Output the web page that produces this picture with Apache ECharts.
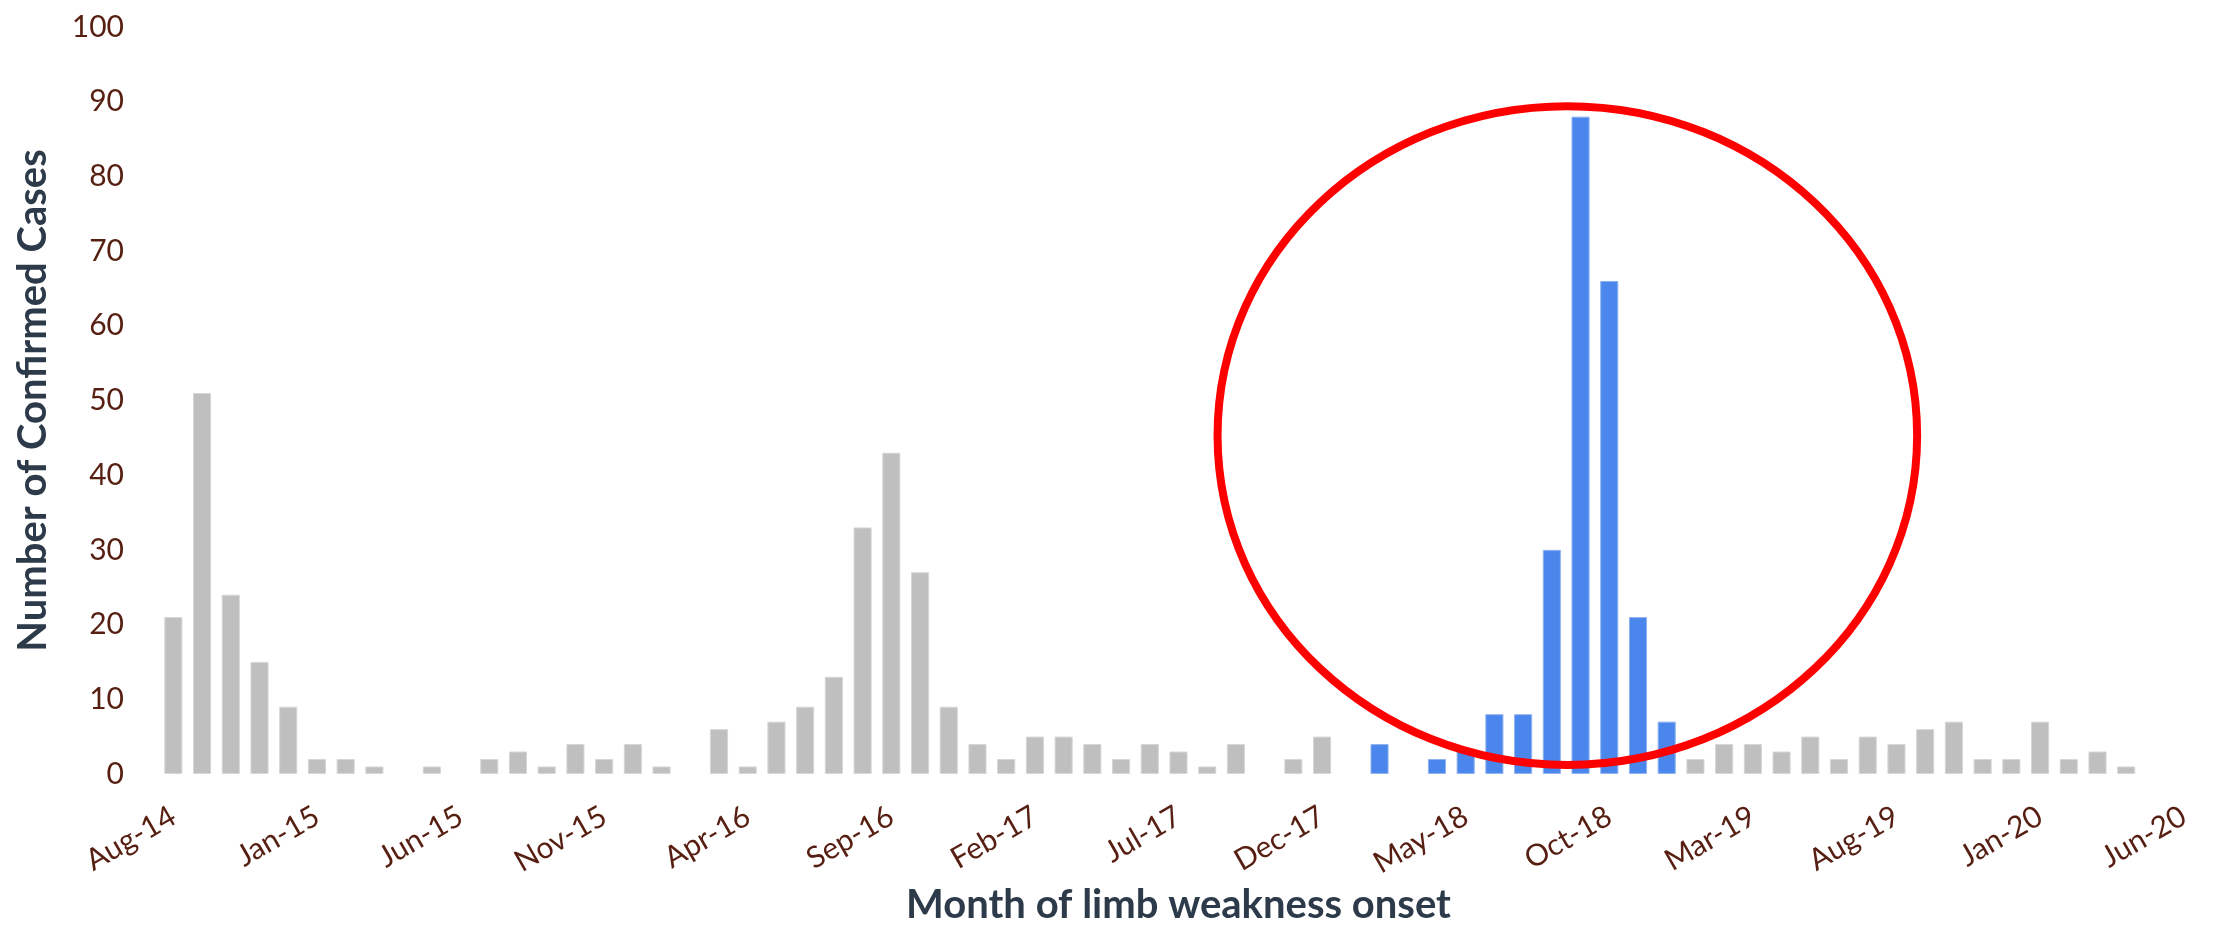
<!DOCTYPE html>
<html>
<head>
<meta charset="utf-8">
<script src="https://cdn.jsdelivr.net/npm/echarts@6/dist/echarts.min.js"></script>
<style>
  html, body { margin: 0; padding: 0; background: #ffffff; }
  #chart { width: 2216px; height: 930px; }
</style>
</head>
<body>
<div id="chart"></div>
<script>
// ---- Data ----
const months = [
  'Aug-14','Sep-14','Oct-14','Nov-14','Dec-14',
  'Jan-15','Feb-15','Mar-15','Apr-15','May-15','Jun-15','Jul-15','Aug-15','Sep-15','Oct-15','Nov-15','Dec-15',
  'Jan-16','Feb-16','Mar-16','Apr-16','May-16','Jun-16','Jul-16','Aug-16','Sep-16','Oct-16','Nov-16','Dec-16',
  'Jan-17','Feb-17','Mar-17','Apr-17','May-17','Jun-17','Jul-17','Aug-17','Sep-17','Oct-17','Nov-17','Dec-17',
  'Jan-18','Feb-18','Mar-18','Apr-18','May-18','Jun-18','Jul-18','Aug-18','Sep-18','Oct-18','Nov-18','Dec-18',
  'Jan-19','Feb-19','Mar-19','Apr-19','May-19','Jun-19','Jul-19','Aug-19','Sep-19','Oct-19','Nov-19','Dec-19',
  'Jan-20','Feb-20','Mar-20','Apr-20','May-20','Jun-20'
];
const confirmedCases = [
  21, 51, 24, 15, 9,
  2, 2, 1, 0, 1, 0, 2, 3, 1, 4, 2, 4,
  1, 0, 6, 1, 7, 9, 13, 33, 43, 27, 9, 4,
  2, 5, 5, 4, 2, 4, 3, 1, 4, 0, 2, 5,
  0, 4, 0, 2, 3, 8, 8, 30, 88, 66, 21, 7,
  2, 4, 4, 3, 5, 2, 5, 4, 6, 7, 2, 2,
  7, 2, 3, 1, 0, 0
];
const highlightStart = 'Feb-18';
const highlightEnd = 'Dec-18';
const yTicks = [0, 10, 20, 30, 40, 50, 60, 70, 80, 90, 100];

// ---- Styles ----
const GRAY = '#bfbfbf', BLUE = '#4a86ec';
const LABEL_COLOR = '#561f12', TITLE_COLOR = '#2c3a49';
const FONT = 'Lato, "Open Sans", sans-serif';

const hs = months.indexOf(highlightStart), he = months.indexOf(highlightEnd);
const barData = confirmedCases.map((v, i) => {
  const hl = i >= hs && i <= he;
  return {
    value: v,
    itemStyle: {
      color: hl ? BLUE : GRAY,
      borderColor: hl ? '#8fb2f0' : '#d6d6d6',
      borderWidth: v > 0 ? 1 : 0
    }
  };
});

const chart = echarts.init(document.getElementById('chart'), null, { renderer: 'canvas' });
chart.setOption({
  animation: false,
  backgroundColor: '#ffffff',
  grid: { left: 159, right: 18, top: 27, bottom: 151, containLabel: false },
  xAxis: {
    type: 'category',
    data: months,
    boundaryGap: true,
    axisLine: { show: false },
    axisTick: { show: false },
    axisLabel: {
      interval: 4,
      rotate: 30,
      margin: 40,
      color: LABEL_COLOR,
      fontFamily: FONT,
      fontSize: 30
    },
    name: 'Month of limb weakness onset',
    nameLocation: 'middle',
    nameGap: 106,
    nameTextStyle: { color: TITLE_COLOR, fontFamily: FONT, fontWeight: 'bold', fontSize: 40 }
  },
  yAxis: {
    type: 'value',
    min: yTicks[0],
    max: yTicks[yTicks.length - 1],
    interval: yTicks[1] - yTicks[0],
    axisLine: { show: false },
    axisTick: { show: false },
    splitLine: { show: false },
    axisLabel: { margin: 35, color: LABEL_COLOR, fontFamily: FONT, fontSize: 30 },
    name: 'Number of Confirmed Cases',
    nameLocation: 'middle',
    nameGap: 106,
    nameTextStyle: { color: TITLE_COLOR, fontFamily: FONT, fontWeight: 'bold', fontSize: 40 }
  },
  series: [{
    type: 'bar',
    data: barData,
    barCategoryGap: '37%'
  }]
});

// ---- Annotation: red ellipse around the 2018 outbreak (in data units) ----
const ellipseCenterIdx = 48.54, ellipseCenterVal = 45.3;
const ellipseHalfWidthCats = 12.18, ellipseHalfHeightVal = 44.1;
const p0 = chart.convertToPixel({ gridIndex: 0 }, [months[0], 0]);
const p1 = chart.convertToPixel({ gridIndex: 0 }, [months[1], 100]);
const step = p1[0] - p0[0];
const unit = (p0[1] - p1[1]) / 100;
chart.setOption({
  graphic: [{
    type: 'ellipse',
    z: 100,
    shape: {
      cx: p0[0] + ellipseCenterIdx * step,
      cy: p0[1] - ellipseCenterVal * unit,
      rx: ellipseHalfWidthCats * step,
      ry: ellipseHalfHeightVal * unit
    },
    style: { fill: 'none', stroke: '#ff0000', lineWidth: 8 }
  }]
});
</script>
</body>
</html>
